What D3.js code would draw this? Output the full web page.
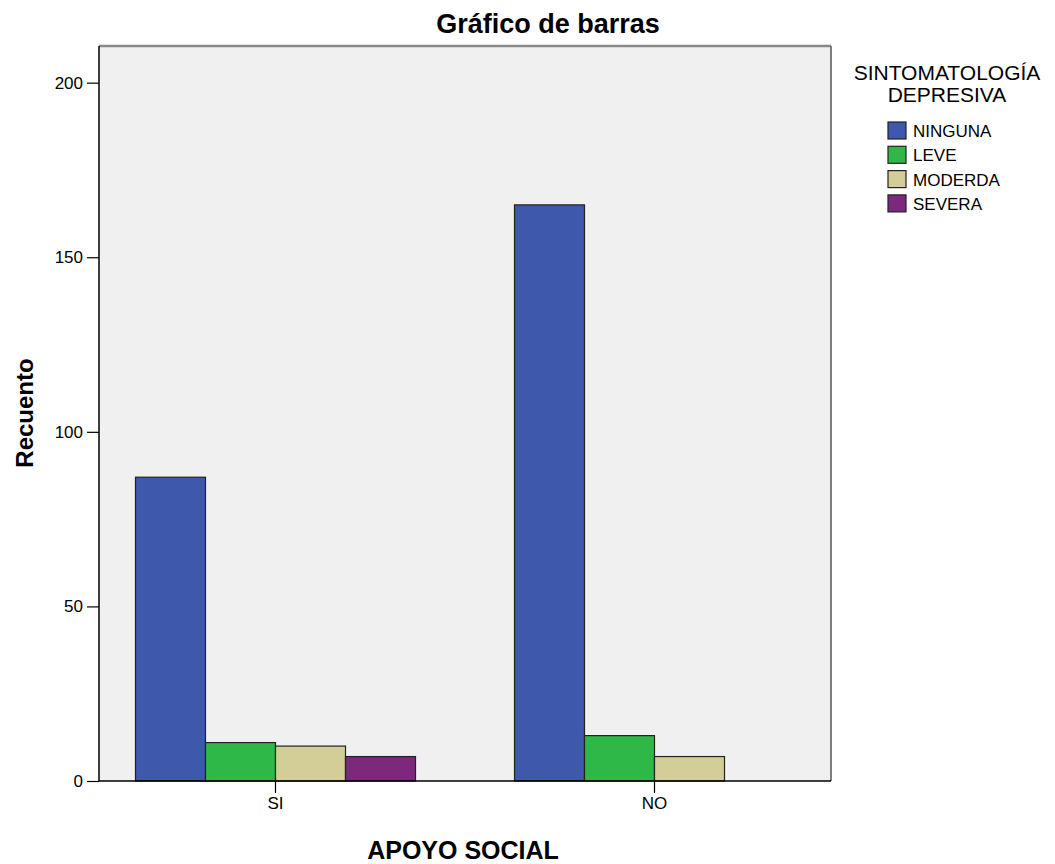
<!DOCTYPE html>
<html><head><meta charset="utf-8">
<script src="https://cdn.jsdelivr.net/npm/d3@7"></script>
<style>
body{margin:0;background:#fff;}
text{font-family:"Liberation Sans",Arial,sans-serif;fill:#000;}
</style></head>
<body>
<svg id="chart" width="1055" height="864"></svg>
<script>
const categories = ["SI", "NO"];
const series = ["NINGUNA", "LEVE", "MODERDA", "SEVERA"];
const valuesSI = [87, 11, 10, 7];
const valuesNO = [165, 13, 7, 0];
const seriesColors = ["#3E58AC", "#2EB848", "#D3CE97", "#7C287D"];
const yTicks = [0, 50, 100, 150, 200];
const title = "Gráfico de barras";
const xTitle = "APOYO SOCIAL";
const yTitle = "Recuento";
const legendTitle = ["SINTOMATOLOGÍA", "DEPRESIVA"];

const table = categories.map((c, i) => ({
  cat: c,
  vals: series.map((s, j) => ({ s, v: [valuesSI, valuesNO][i][j], color: seriesColors[j] }))
}));

const svg = d3.select("#chart");
const L = 99, R = 831, T = 46, B = 781;

svg.append("rect").attr("x", L).attr("y", T).attr("width", R - L).attr("height", B - T).attr("fill", "#F0F0F0");

const x0 = d3.scaleBand().domain(categories).range([L, R]).paddingInner(0.2612).paddingOuter(0.0963);
const x1 = d3.scaleBand().domain(series).range([0, x0.bandwidth()]).padding(0);
const y = d3.scaleLinear().domain([0, 210.5]).range([B, T]);

const g = svg.selectAll("g.grp").data(table).enter().append("g")
  .attr("transform", d => `translate(${x0(d.cat)},0)`);
g.selectAll("rect").data(d => d.vals.filter(v => v.v > 0)).enter().append("rect")
  .attr("x", d => x1(d.s))
  .attr("y", d => y(d.v))
  .attr("width", x1.bandwidth())
  .attr("height", d => B - y(d.v))
  .attr("fill", d => d.color)
  .attr("stroke", "#222")
  .attr("stroke-width", 1.2);

// frame: top grey, right grey
svg.append("line").attr("x1", L).attr("x2", R).attr("y1", T).attr("y2", T).attr("stroke", "#888").attr("stroke-width", 2.5);
svg.append("line").attr("x1", R).attr("x2", R).attr("y1", T).attr("y2", B).attr("stroke", "#555").attr("stroke-width", 1.5);

// axes
const yAxis = d3.axisLeft(y).tickValues(yTicks).tickSize(12).tickPadding(4).tickSizeOuter(0);
const ya = svg.append("g").attr("transform", `translate(${L},0)`).call(yAxis);
ya.select(".domain").attr("stroke", "#000").attr("stroke-width", 1.5).attr("d", `M0,${T}V${B}`);
ya.selectAll(".tick line").attr("stroke", "#000").attr("stroke-width", 1.2);
ya.selectAll(".tick text").style("font-size", "17px").style("font-family", "Liberation Sans, Arial, sans-serif").attr("fill", "#111");

const xAxis = d3.axisBottom(x0).tickSize(12).tickPadding(4).tickSizeOuter(0);
const xa = svg.append("g").attr("transform", `translate(0,${B})`).call(xAxis);
xa.select(".domain").attr("stroke", "#000").attr("stroke-width", 1.5).attr("d", `M${L},0H${R}`);
xa.selectAll(".tick line").attr("stroke", "#000").attr("stroke-width", 1.2);
xa.selectAll(".tick text").style("font-size", "17px").style("font-family", "Liberation Sans, Arial, sans-serif").attr("fill", "#111");

// titles
svg.append("text").attr("x", 548).attr("y", 33).attr("text-anchor", "middle")
  .style("font-size", "27px").style("font-weight", "bold").text(title);
svg.append("text").attr("x", 463).attr("y", 859).attr("text-anchor", "middle")
  .style("font-size", "25px").style("font-weight", "bold").text(xTitle);
svg.append("text").attr("transform", "translate(33,413) rotate(-90)").attr("text-anchor", "middle")
  .style("font-size", "24px").style("font-weight", "bold").text(yTitle);

// legend
legendTitle.forEach((t, i) => {
  svg.append("text").attr("x", 947).attr("y", 80 + i * 22).attr("text-anchor", "middle")
    .style("font-size", "21px").attr("fill", "#222").text(t);
});
const lg = svg.selectAll("g.leg").data(series).enter().append("g")
  .attr("transform", (d, i) => `translate(888,${122 + i * 24.3})`);
lg.append("rect").attr("width", 18).attr("height", 17)
  .attr("fill", (d, i) => seriesColors[i]).attr("stroke", "#222").attr("stroke-width", 1.2);
lg.append("text").attr("x", 25).attr("y", 15).style("font-size", "17px").attr("fill", "#111").text(d => d);
</script>
</body></html>
